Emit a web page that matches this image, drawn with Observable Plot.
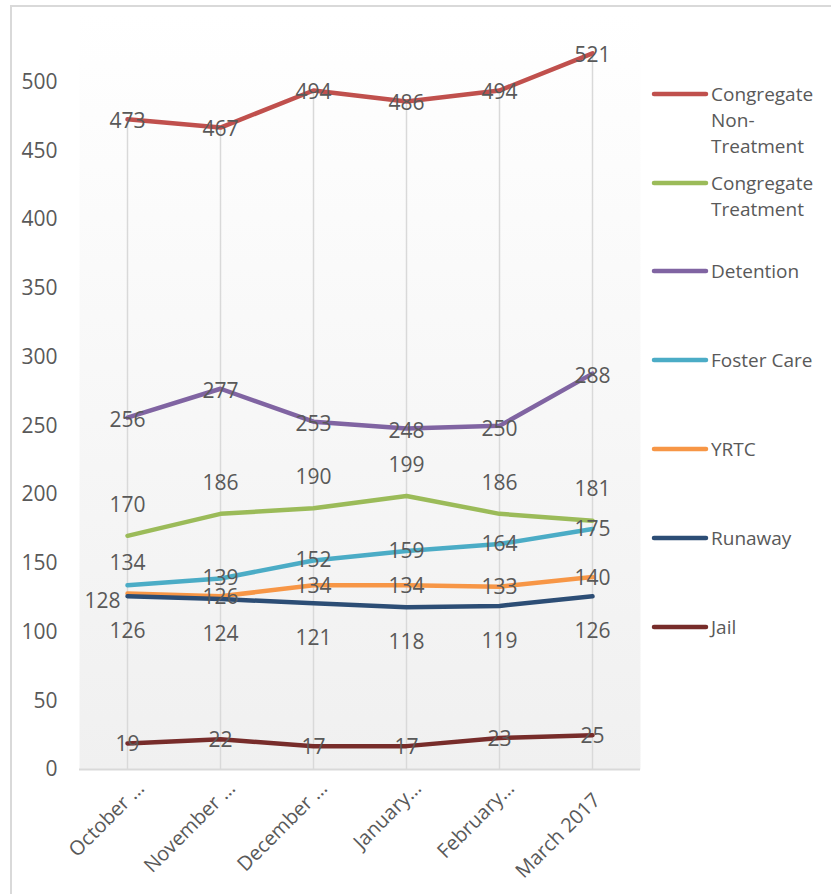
<!DOCTYPE html>
<html>
<head>
<meta charset="utf-8">
<script src="https://cdn.jsdelivr.net/npm/d3@7"></script>
<script src="https://cdn.jsdelivr.net/npm/@observablehq/plot@0.6"></script>
<style>
  body { margin: 0; background: #fff; }
  #chart { position: relative; width: 831px; height: 894px; overflow: hidden; }
</style>
</head>
<body>
<div id="chart"></div>
<script>
// ---- data ----
const months = ["October …", "November …", "December …", "January…", "February…", "March 2017"];
const seriesNames = ["Congregate Non-Treatment", "Congregate Treatment", "Detention", "Foster Care", "YRTC", "Runaway", "Jail"];
const legendLines = [["Congregate", "Non-", "Treatment"], ["Congregate", "Treatment"], ["Detention"], ["Foster Care"], ["YRTC"], ["Runaway"], ["Jail"]];
const congregateNonTreatment = [473, 467, 494, 486, 494, 521];
const congregateTreatment = [170, 186, 190, 199, 186, 181];
const detention = [256, 277, 253, 248, 250, 288];
const fosterCare = [134, 139, 152, 159, 164, 175];
const yrtc = [128, 126, 134, 134, 133, 140];
const runaway = [126, 124, 121, 118, 119, 126];
const jail = [19, 22, 17, 17, 23, 25];
const yTicks = [0, 50, 100, 150, 200, 250, 300, 350, 400, 450, 500];

// ---- styles ----
const colors = ["#c0504d", "#9bbb59", "#8064a2", "#4bacc6", "#f79646", "#2c4d75", "#772c2a"];
const labelDy = [2, -31, 3, 0, 1, 35, 1];          // per series label offset (px)
const labelOverride = {"Foster Care|0": [0, -22], "YRTC|0": [-25, 8]}; // [dx, dy]
const tickOffsets = [[18, 20], [16, 20], [15, 20], [16, 20], [16, 20], [9, 32]]; // x-label [dx, dy]
const FONT = "'Open Sans', 'DejaVu Sans', sans-serif";
const TXT = "#595959";

const allValues = [congregateNonTreatment, congregateTreatment, detention, fosterCare, yrtc, runaway, jail];
const rows = [];
seriesNames.forEach((s, si) => allValues[si].forEach((v, i) => {
  const key = s + "|" + i;
  const off = labelOverride[key] || [0, labelDy[si]];
  rows.push({series: s, month: months[i], value: v, dx: off[0], dy: off[1]});
}));

// group labels by offset (dx/dy are constants in Plot)
const labelMarks = d3.groups(rows, d => d.dx + "," + d.dy).map(([k, g]) => Plot.text(g, {
  x: "month", y: "value", text: d => String(d.value),
  dx: g[0].dx, dy: g[0].dy, fill: TXT, fontSize: 21
}));

const tickMarks = d3.groups(months.map((m, i) => ({m, dx: tickOffsets[i][0], dy: tickOffsets[i][1]})),
  d => d.dx + "," + d.dy).map(([k, g]) => Plot.text(g, {
    x: "m", text: "m", frameAnchor: "bottom", rotate: -45, textAnchor: "end",
    lineAnchor: "bottom", dx: g[0].dx, dy: g[0].dy, fill: TXT, fontSize: 20
  }));

const dropRows = months.map((m, i) => ({month: m, top: d3.max(allValues, a => a[i])}));

const plot = Plot.plot({
  width: 831, height: 894,
  marginLeft: 79, marginRight: 191, marginTop: 13, marginBottom: 125,
  style: {fontFamily: FONT, fontSize: "19px", color: TXT, background: "transparent"},
  x: {type: "point", domain: months, padding: 0.5, axis: null},
  y: {domain: [0, 550], axis: null},
  color: {domain: seriesNames, range: colors},
  marks: [
    Plot.frame({fill: "url(#plotbg)", stroke: "none"}),
    Plot.ruleX(dropRows, {x: "month", y1: 0, y2: "top", stroke: "#d9d9d9", strokeWidth: 1.5}),
    Plot.ruleY([0], {stroke: "#d9d9d9", strokeWidth: 2}),
    Plot.axisY(yTicks, {tickSize: 0, tickPadding: 22, fill: TXT, fontSize: 21}),
    ...tickMarks,
    Plot.line(rows, {x: "month", y: "value", z: "series", stroke: "series",
      strokeWidth: 4.5, strokeLinecap: "round", strokeLinejoin: "round"}),
    ...labelMarks
  ]
});

const svg = d3.select(plot);
const defs = svg.insert("defs", ":first-child");
const grad = defs.append("linearGradient").attr("id", "plotbg")
  .attr("x1", 0).attr("y1", 0).attr("x2", 0).attr("y2", 1);
grad.append("stop").attr("offset", "0%").attr("stop-color", "#ffffff");
grad.append("stop").attr("offset", "100%").attr("stop-color", "#f0f0f0");

// outer chart border
svg.append("rect").attr("x", 11).attr("y", 6).attr("width", 900).attr("height", 900)
  .attr("fill", "none").attr("stroke", "#d9d9d9").attr("stroke-width", 2);

// legend
const legendY = [94, 183, 271, 360, 449, 538, 627];
const lg = svg.append("g").attr("font-family", FONT).attr("font-size", 19)
  .attr("fill", TXT).attr("text-anchor", "start");
seriesNames.forEach((s, i) => {
  const y = legendY[i];
  lg.append("line").attr("x1", 654).attr("x2", 706).attr("y1", y).attr("y2", y)
    .attr("stroke", colors[i]).attr("stroke-width", 4.5).attr("stroke-linecap", "round");
  legendLines[i].forEach((t, j) => {
    lg.append("text").attr("x", 711).attr("y", y + j * 26).attr("dy", "0.35em").text(t);
  });
});

document.getElementById("chart").appendChild(plot);
</script>
</body>
</html>
